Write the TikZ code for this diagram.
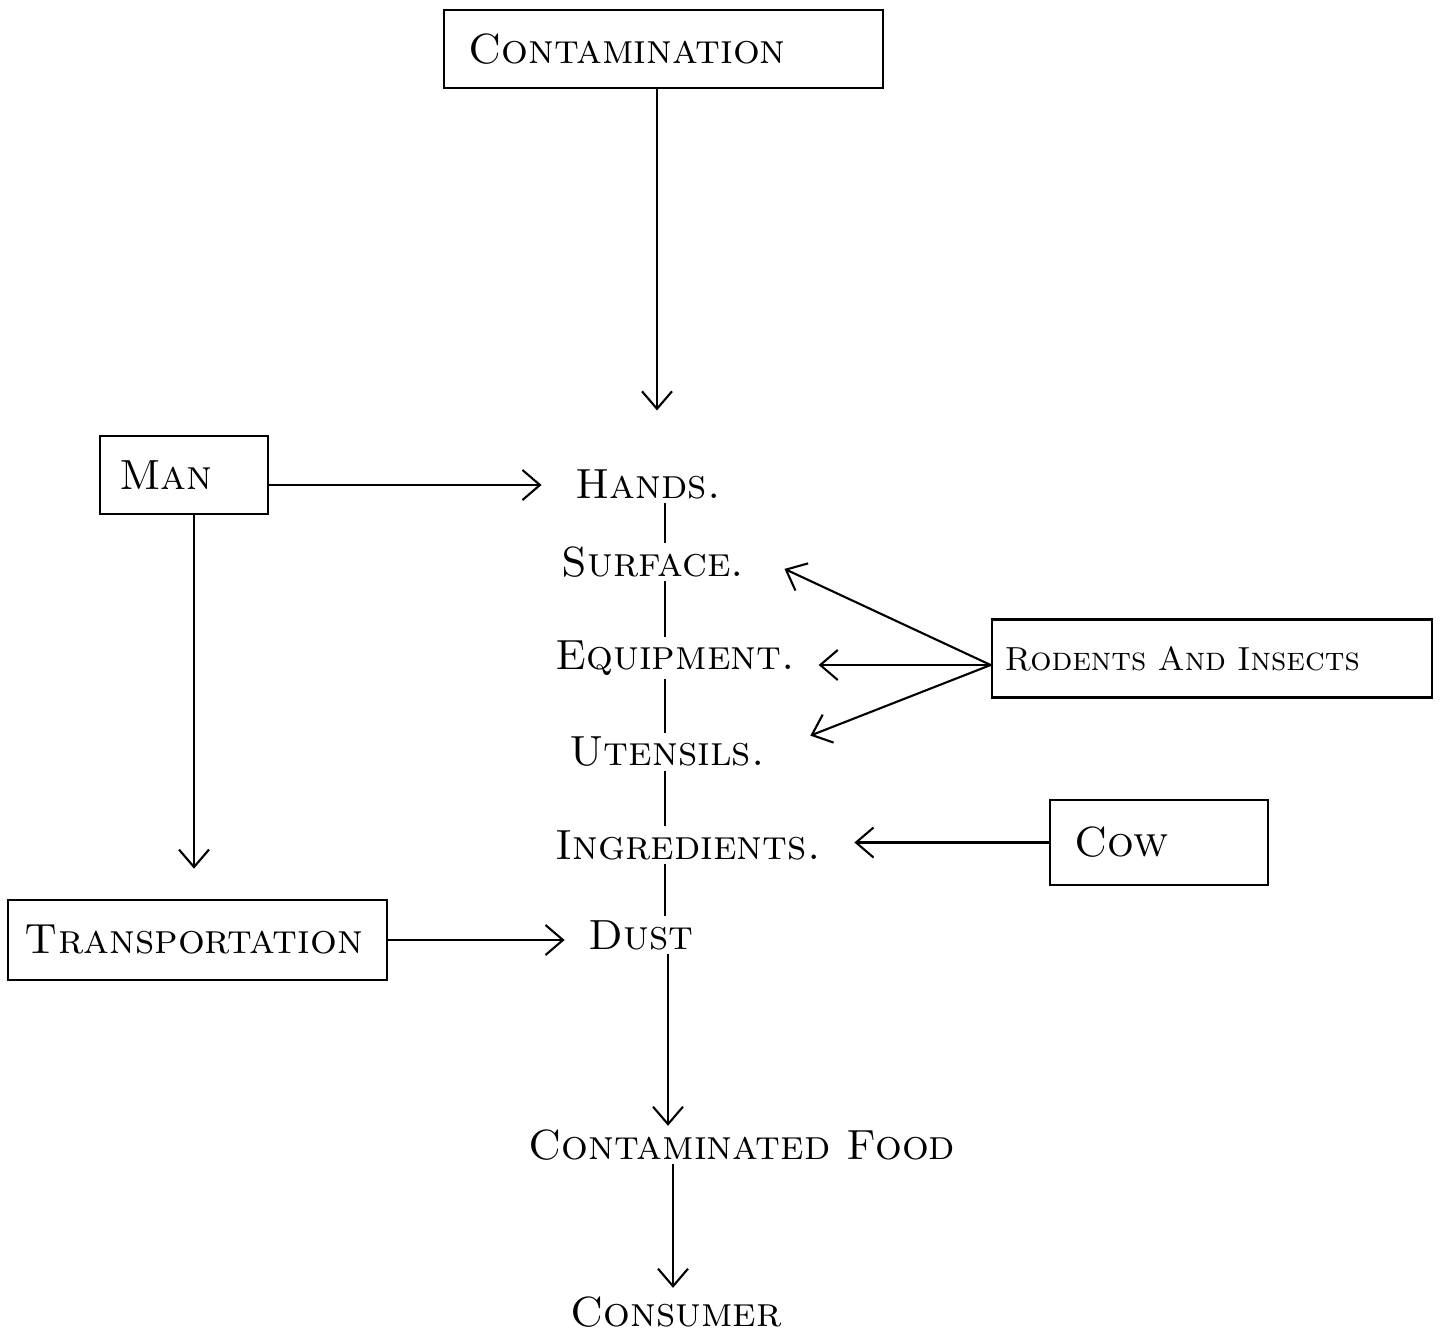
\documentclass[tikz,border=0pt]{standalone}
\usetikzlibrary{arrows.meta}
\begin{document}
\begin{tikzpicture}[
    font=\fontsize{24}{28}\selectfont\scshape,
    box/.style={draw, line width=1.5pt, minimum height=15.6mm, inner sep=0pt, align=left},
    word/.style={inner sep=2pt},
    arr/.style={-{Straight Barb[length=3.5mm,width=6mm]}, line width=1.2pt},
    link/.style={line width=1.2pt},
]
    \useasboundingbox (0,0) rectangle (28.82,-26.68);

    % Top: source
    \node[box, minimum width=87.8mm, text width=78mm] (contam) at (13.27,-0.98) {Contamination};

    % Left side boxes
    \node[box, minimum width=33.6mm, text width=26mm] (man) at (3.68,-9.5) {Man};
    \node[box, minimum width=75.8mm, minimum height=16mm, text width=69mm] (transport) at (3.95,-18.8) {Transportation};

    % Right side boxes
    \node[box, minimum width=88mm, text width=83mm, font=\fontsize{19}{22}\selectfont\scshape] (rodents) at (24.24,-13.17) {Rodents And Insects};
    \node[box, minimum width=43.6mm, minimum height=17mm, text width=34mm] (cow) at (23.18,-16.85) {Cow};

    % Middle column
    \coordinate (spine) at (13.3,0);
    \node[word] (hands)   at (12.96,-9.68)  {Hands.};
    \node[word] (surface) at (13.06,-11.24) {Surface.};
    \node[word] (equip)   at (13.50,-13.16) {Equipment.};
    \node[word] (utens)   at (13.34,-15.04) {Utensils.};
    \node[word] (ingred)  at (13.76,-16.90) {Ingredients.};
    \node[word] (dust)    at (12.82,-18.70) {Dust};
    \node[word] (food)    at (14.84,-22.90) {Contaminated Food};
    \node[word] (consumer) at (13.52,-26.24) {Consumer};

    % Spine
    \draw[link] (hands.south -| spine)   -- (surface.north -| spine);
    \draw[link] (surface.south -| spine) -- (equip.north -| spine);
    \draw[link] (equip.south -| spine)   -- (utens.north -| spine);
    \draw[link] (utens.south -| spine)   -- (ingred.north -| spine);
    \draw[link] (ingred.south -| spine)  -- (dust.north -| spine);

    % Arrows
    \draw[arr, shorten >=1.1cm] (contam.south -| 13.14,0) -- (13.14,0 |- hands.north);
    \draw[arr, shorten >=0.6cm] ([yshift=-2mm]man.east) -- ([yshift=-2mm]man.east -| hands.west);
    \draw[arr, shorten >=0.6cm] (man.south -| 3.88,0) -- (3.88,0 |- transport.north);
    \draw[arr, shorten >=0.4cm] (transport.east) -- (transport.east -| dust.west);
    \draw[arr, shorten >=0.8cm] ([yshift=-1.3mm]rodents.west) -- ([yshift=2mm]surface.east);
    \draw[arr, shorten >=0.4cm] ([yshift=-1.3mm]rodents.west) -- ([yshift=-1.3mm]rodents.west -| equip.east);
    \draw[arr, shorten >=0.9cm] ([yshift=-1.3mm]rodents.west) -- (utens.east);
    \draw[arr, shorten >=0.6cm] (cow.west) -- (cow.west -| ingred.east);
    \draw[arr] (dust.south -| 13.36,0) -- (13.36,0 |- food.north);
    \draw[arr, shorten >=0.1cm] (food.south -| 13.46,0) -- (13.46,0 |- consumer.north);
\end{tikzpicture}
\end{document}
